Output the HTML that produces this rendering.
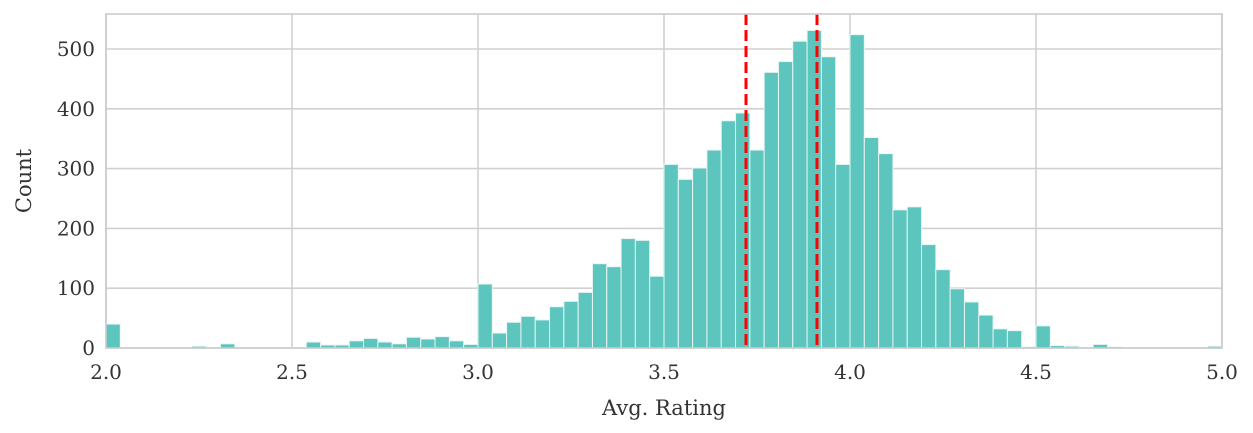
<!DOCTYPE html>
<html><head><meta charset="utf-8"><style>
html,body{margin:0;padding:0;background:#fff;}
svg{display:block;font-family:"DejaVu Serif","Liberation Serif",serif;}
</style></head><body>
<svg id="s" width="1253" height="433" viewBox="0 0 1253 433" xmlns="http://www.w3.org/2000/svg">
<g id="grid" stroke="#d0d0d0" stroke-width="1.6"></g>
<g id="bars"></g>
<line x1="746" y1="14" x2="746" y2="348" stroke="#ff0000" stroke-width="3" stroke-dasharray="11,5"/>
<line x1="817" y1="14" x2="817" y2="348" stroke="#ff0000" stroke-width="3" stroke-dasharray="11,5"/>
<rect x="106" y="14" width="1116" height="334" fill="none" stroke="#cccccc" stroke-width="1.6"/>
<g id="lab" fill="#333" font-size="20"></g>
<text x="664" y="415" font-size="21" fill="#333" text-anchor="middle">Avg. Rating</text>
<text x="31" y="181" font-size="21" fill="#333" text-anchor="middle" transform="rotate(-90 31 181)">Count</text>
</svg>
<script>
var c=[40,1,1,1,1,1,3,1,7,1,1,1,1,1,10,5,5,12,16,10,7,18,15,19,12,6,107,25,43,53,47,69,78,93,141,136,183,180,120,307,282,301,331,380,393,331,461,479,513,531,487,307,524,352,325,231,236,173,131,99,77,55,32,29,2,37,4,3,1,6,2,1,0,0,0,0,0,3];
var X0=106,W=1116,Y0=348,k=0.598,bw=W/78,ns="http://www.w3.org/2000/svg";
function el(t,a,p,txt){var e=document.createElementNS(ns,t);for(var q in a)e.setAttribute(q,a[q]);if(txt!==undefined)e.textContent=txt;document.getElementById(p).appendChild(e);}
for(var v=0;v<=500;v+=100){var y=Y0-v*k;el('line',{x1:X0,x2:X0+W,y1:y,y2:y},'grid');el('text',{x:95,y:y+7,'text-anchor':'end'},'lab',String(v));}
for(var i=0;i<=6;i++){var x=X0+i*W/6;el('line',{x1:x,x2:x,y1:14,y2:Y0},'grid');el('text',{x:x,y:379,'text-anchor':'middle'},'lab',(2+i*0.5).toFixed(1));}
for(var i=0;i<c.length;i++){if(c[i]<=0)continue;var h=c[i]*k;el('rect',{x:X0+i*bw,y:Y0-h,width:bw,height:h,fill:'#5cc5bd',stroke:'#e8f6f4','stroke-width':1},'bars');}
</script>
</body></html>
